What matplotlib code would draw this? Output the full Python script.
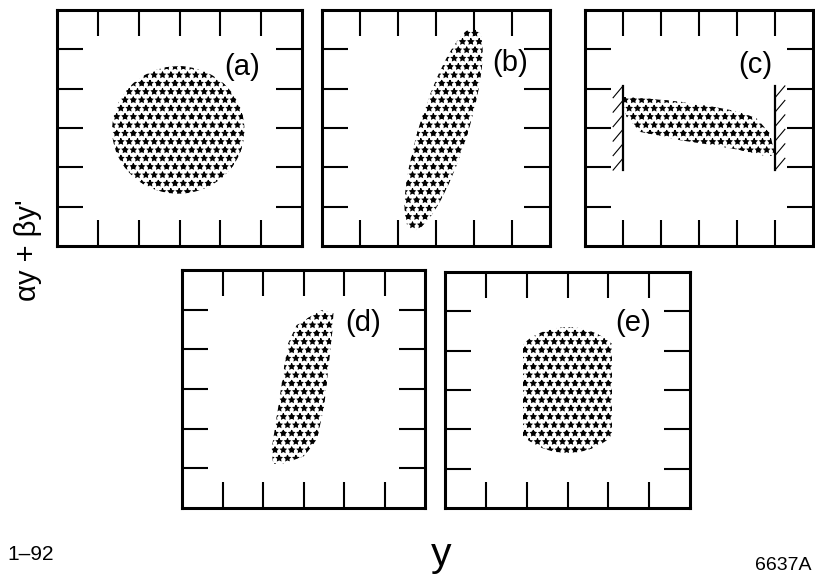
import numpy as np
import matplotlib
matplotlib.use('Agg')
import matplotlib.pyplot as plt
from matplotlib.patches import Circle, Ellipse, Polygon, Rectangle

plt.rcParams['font.family'] = ['Liberation Sans', 'DejaVu Sans']
plt.rcParams['hatch.linewidth'] = 0.8

# panel frames in pixels: left, top, right, bottom
frames = {
    'a': (57, 10, 302, 246),
    'b': (322, 10, 550, 246),
    'c': (585, 10, 813, 246),
    'd': (182, 270, 425, 508),
    'e': (445, 272, 690, 508),
}
label_pos = {
    'a': (4.53, 4.55), 'b': (4.95, 4.65), 'c': (4.47, 4.6),
    'd': (4.47, 4.66), 'e': (4.6, 4.7),
}

# (a) initial beam
circle_center = (2.97, 2.95)
circle_radius = 1.62

# (b) after the rotation
ellipse_b_center = (3.2, 2.97)
ellipse_b_length = 5.4
ellipse_b_width = 1.27
ellipse_b_angle = 72.0

# (c) collimated beam between the jaws
jaw_x = [1.0, 5.0]
jaw_y = (1.93, 4.07)
band_c_x = [1.01, 1.62, 2.50, 3.38, 4.08, 4.52, 4.87, 5.0,
            4.78, 4.08, 3.38, 2.50, 1.89, 1.45, 1.10, 1.01]
band_c_y = [3.79, 3.75, 3.67, 3.54, 3.41, 3.24, 2.86, 2.31,
            2.28, 2.44, 2.56, 2.69, 2.82, 2.90, 3.28, 3.54]

# (d) rotated back
band_d_x = [3.45, 3.74, 3.70, 3.61, 3.51, 3.33, 3.0, 2.54,
            2.25, 2.21, 2.34, 2.50, 2.62, 2.83, 3.16]
band_d_y = [4.99, 4.91, 4.32, 3.48, 2.56, 1.72, 1.30, 1.13,
            1.11, 1.47, 2.30, 3.40, 4.15, 4.61, 4.82]

# (e) final distribution
round_center = (3.0, 3.0)
round_radius = 1.6
round_halfwidth = 1.1

# grainy fill: two hatch layers on top of each other
texture = ['**', '.']

W, H = 815, 580
fig = plt.figure(figsize=(W / 100, H / 100), dpi=100)

axes = {}
for key, (l, t, r, b) in frames.items():
    ax = fig.add_axes([l / W, 1 - b / H, (r - l) / W, (b - t) / H])
    ax.set_xlim(0, 6)
    ax.set_ylim(0, 6)
    ax.set_xticks(range(1, 6))
    ax.set_yticks(range(1, 6))
    ax.tick_params(direction='in', length=18.5, width=1.5, top=True, right=True,
                   labelbottom=False, labelleft=False)
    for s in ax.spines.values():
        s.set_linewidth(2.2)
    ax.text(*label_pos[key], '(%s)' % key, fontsize=21, ha='center', va='center')
    axes[key] = ax


def speckle(ax, make_patch, clip=None):
    for h in texture:
        patch = make_patch()
        patch.set_facecolor('none')
        patch.set_edgecolor('black')
        patch.set_linewidth(0)
        patch.set_hatch(h)
        ax.add_patch(patch)
        if clip is not None:
            patch.set_clip_path(clip)


speckle(axes['a'], lambda: Circle(circle_center, circle_radius))
speckle(axes['b'], lambda: Ellipse(ellipse_b_center, ellipse_b_width, ellipse_b_length,
                                   angle=ellipse_b_angle - 90))
speckle(axes['c'], lambda: Polygon(np.column_stack([band_c_x, band_c_y])))
speckle(axes['d'], lambda: Polygon(np.column_stack([band_d_x, band_d_y])))
clip = Rectangle((round_center[0] - round_halfwidth, 0), 2 * round_halfwidth, 6,
                 transform=axes['e'].transData, visible=False)
axes['e'].add_patch(clip)
speckle(axes['e'], lambda: Circle(round_center, round_radius), clip=clip)

# collimator jaws with short strokes on their backs
axc = axes['c']
n_strokes = 6
for i, xj in enumerate(jaw_x):
    axc.plot([xj, xj], jaw_y, color='black', lw=1.6)
    for yt in np.linspace(jaw_y[0] + 0.3, jaw_y[1], n_strokes):
        if i == 0:
            axc.plot([xj - 0.26, xj], [yt - 0.3, yt], color='black', lw=0.8)
        else:
            axc.plot([xj, xj + 0.26], [yt - 0.3, yt], color='black', lw=0.8)

fig.text(28 / W, 1 - 250 / H, "\u03b1y + \u03b2y'", rotation=90, fontsize=21,
         ha='center', va='center')
fig.text(441 / W, 1 - 566 / H, 'y', fontsize=29.5, ha='center', va='baseline')
fig.text(7 / W, 1 - 560 / H, '1\u201392', fontsize=15, ha='left', va='baseline')
fig.text(755 / W, 1 - 570 / H, '6637A', fontsize=14, ha='left', va='baseline')

fig.savefig('out.png', dpi=100)
